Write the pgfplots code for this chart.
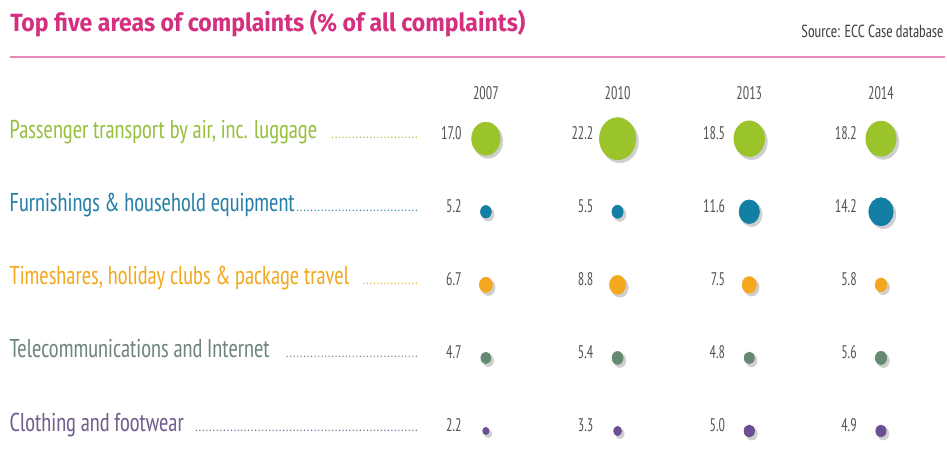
\documentclass[border=0pt]{standalone}
\usepackage{pgfplots}
\pgfplotsset{compat=1.18}
\usepackage{pgfplotstable}
\usepackage{graphicx}
\usepackage{fontspec}
\IfFontExistsTF{PT Sans Narrow}
 {\setmainfont{PT Sans Narrow}[FakeStretch=0.88]
  \newfontfamily\numfont{PT Sans Narrow}[FakeStretch=0.78]}
 {\setmainfont{PT Sans}[FakeStretch=0.74]
  \newfontfamily\numfont{PT Sans}[FakeStretch=0.64]}
\newfontfamily\titlefont{Fira Sans}[FakeStretch=0.925]

\definecolor{ctitle}{HTML}{D5307F}
\definecolor{cline}{HTML}{E38AB9}
\definecolor{cnum}{HTML}{555555}
\definecolor{cshadow}{HTML}{CFCFCF}
\definecolor{lair}{HTML}{98C03F}   \definecolor{bair}{HTML}{9AC42A}
\definecolor{lfur}{HTML}{2680A8}   \definecolor{bfur}{HTML}{137FA4}
\definecolor{ltim}{HTML}{F2A91E}   \definecolor{btim}{HTML}{F5A71F}
\definecolor{ltel}{HTML}{6F877A}   \definecolor{btel}{HTML}{658A72}
\definecolor{lclo}{HTML}{725E8E}   \definecolor{bclo}{HTML}{6C4E94}

% share of all complaints, by year (0=2007, 1=2010, 2=2013, 3=2014)
\pgfplotstableread{
yr v
0 17.0
1 22.2
2 18.5
3 18.2
}\air
\pgfplotstableread{
yr v
0 5.2
1 5.5
2 11.6
3 14.2
}\furn
\pgfplotstableread{
yr v
0 6.7
1 8.8
2 7.5
3 5.8
}\timesh
\pgfplotstableread{
yr v
0 4.7
1 5.4
2 4.8
3 5.6
}\telec
\pgfplotstableread{
yr v
0 2.2
1 3.3
2 5.0
3 4.9
}\cloth

\newcommand\lead{\leaders\hbox to 2.1pt{\hss\scalebox{0.55}{.}\hss}\hfill}
\newcommand\rowlab[3]{\textcolor{#1}{\hbox to 246pt{#2\hspace*{#3}\lead}}}

% shadow, bubble and value label for one row
\newcommand\bubbles[3]{%
  \addplot[scatter, only marks, mark=*, point meta=explicit,
    visualization depends on={\thisrow{v} \as \bsize},
    scatter/@pre marker code/.code={%
      \pgfmathsetmacro\msz{0.45*\bsize+1.1}%
      \scope[mark size=\msz pt, fill=cshadow, draw=cshadow, xshift=1.4pt, yshift=-1.6pt, yscale=1.16]},
    scatter/@post marker code/.code={\endscope}]
    table[x=yr, y expr=-#2, meta=v] {#1};
  \addplot[scatter, only marks, mark=*, point meta=explicit,
    visualization depends on={\thisrow{v} \as \bsize},
    scatter/@pre marker code/.code={%
      \pgfmathsetmacro\msz{0.45*\bsize+0.9}%
      \scope[mark size=\msz pt, fill=#3, draw=#3, yscale=1.16]},
    scatter/@post marker code/.code={\endscope}]
    table[x=yr, y expr=-#2, meta=v] {#1};
  \addplot[only marks, mark=none, point meta=explicit,
    nodes near coords={\pgfmathprintnumber[fixed, fixed zerofill, precision=1,
      assume math mode=true]{\pgfplotspointmeta}},
    every node near coord/.style={anchor=east, inner sep=0pt, xshift=-14.4pt,
      yshift=3.6pt, text=cnum, font=\fontsize{11}{11}\numfont}]
    table[x=yr, y expr=-#2, meta=v] {#1};
}

\begin{document}
\begin{tikzpicture}
\begin{scope}[x=0.6pt, y=-0.6pt]
  \useasboundingbox (0,0) rectangle (947,438);
  \fill[white] (0,0) rectangle (947,438);
  \node[anchor=base west, inner sep=0pt, text=ctitle,
    font=\titlefont\bfseries\fontsize{15}{15}\selectfont] at (10,32)
    {Top five areas of complaints (\% of all complaints)};
  \node[anchor=base east, inner sep=0pt, text=black!75,
    font=\fontsize{10.5}{11}\selectfont] at (946,38) {Source: ECC Case database};
  \draw[cline, line width=1.2pt] (10,57) -- (947,57);
\end{scope}
\begin{axis}[
    at={(487*0.6pt, -139*0.6pt)}, anchor=origin,
    x=79.2pt, y=43.95pt,
    xmin=-0.5076, xmax=3.5, ymin=-4.5, ymax=0.628,
    clip=false,
    axis line style={draw=none}, major tick length=0pt,
    xtick={0,1,2,3}, xticklabels={2007,2010,2013,2014},
    xticklabel pos=upper,
    xticklabel style={anchor=center, inner sep=0pt, text=cnum,
      font=\fontsize{11}{11}\numfont},
    ytick={0,-1,-2,-3,-4},
    yticklabels={
      {\rowlab{lair}{Passenger transport by air, inc. luggage}{7pt}},
      {\rowlab{lfur}{Furnishings \& household equipment}{0pt}},
      {\rowlab{ltim}{Timeshares, holiday clubs \& package travel}{7pt}},
      {\rowlab{ltel}{Telecommunications and Internet}{8pt}},
      {\rowlab{lclo}{Clothing and footwear}{6pt}}},
    yticklabel style={anchor=base east, inner sep=0pt,
      font=\fontsize{15.5}{16}\selectfont},
  ]
  \bubbles{\air}{0}{bair}
  \bubbles{\furn}{1}{bfur}
  \bubbles{\timesh}{2}{btim}
  \bubbles{\telec}{3}{btel}
  \bubbles{\cloth}{4}{bclo}
\end{axis}
\end{tikzpicture}
\end{document}
